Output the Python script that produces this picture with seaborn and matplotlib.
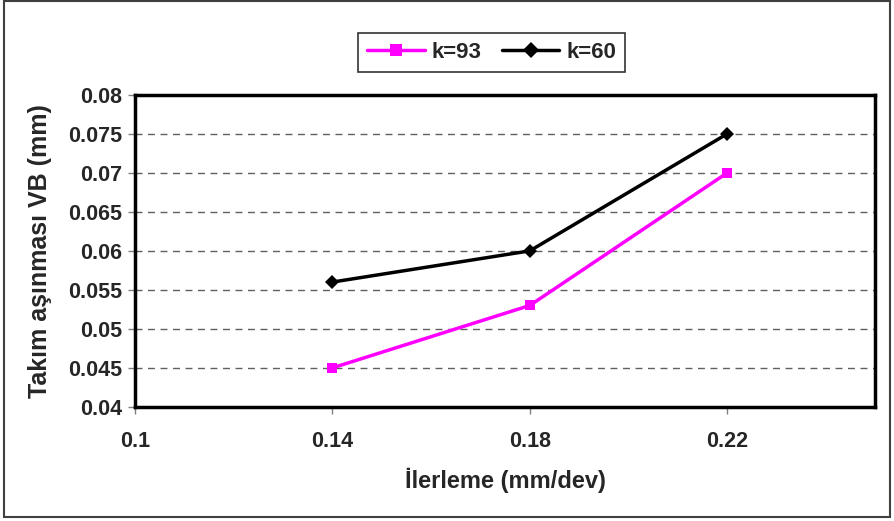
import numpy as np
import pandas as pd
import seaborn as sns
import matplotlib.pyplot as plt
from matplotlib.patches import Rectangle

# values
feed = [0.14, 0.18, 0.22]
wear_k93 = [0.045, 0.053, 0.070]
wear_k60 = [0.056, 0.060, 0.075]
series_names = ['k=93', 'k=60']
x_ticks = [0.1, 0.14, 0.18, 0.22]
y_ticks = [0.04, 0.045, 0.05, 0.055, 0.06, 0.065, 0.07, 0.075, 0.08]

df = pd.DataFrame({
    'feed': feed * 2,
    'wear': wear_k93 + wear_k60,
    'series': [series_names[0]] * 3 + [series_names[1]] * 3,
})

sns.set_style('white')
plt.rcParams['font.family'] = ['Liberation Sans', 'DejaVu Sans']
plt.rcParams['font.weight'] = 'bold'

fig = plt.figure(figsize=(8.94, 5.21), dpi=100)
ax = fig.add_axes([0.151, 0.219, 0.828, 0.599])

sns.lineplot(data=df, x='feed', y='wear', hue='series', style='series',
             palette={'k=93': '#FF00FF', 'k=60': 'black'},
             markers={'k=93': 's', 'k=60': 'D'}, dashes=False,
             markersize=7, linewidth=2.5, markeredgewidth=0, ax=ax)

ax.set_xlim(0.1, 0.25)
ax.set_ylim(0.04, 0.08)
ax.set_xticks(x_ticks)
ax.set_xticklabels([str(t) for t in x_ticks])
ax.set_yticks(y_ticks)
ax.set_yticklabels([f'{t:g}' for t in y_ticks])
ax.tick_params(axis='both', labelsize=15.5, direction='out', length=5,
               width=1, color='gray', bottom=True, left=True)
ax.tick_params(axis='x', pad=12)
ax.tick_params(axis='y', pad=4)

ax.yaxis.grid(True, linestyle=(0, (5, 4)), color='#606060', linewidth=1)
ax.set_axisbelow(True)
for s in ax.spines.values():
    s.set_visible(True)
    s.set_color('black')
    s.set_linewidth(2.5)

ax.set_xlabel('İlerleme (mm/dev)', fontsize=17, fontweight='bold', labelpad=12)
ax.set_ylabel('Takım aşınması VB (mm)', fontsize=18, fontweight='bold', labelpad=12)

leg = ax.legend(loc='center', bbox_to_anchor=(0.550, 0.899),
                bbox_transform=fig.transFigure, ncol=2, frameon=True,
                fancybox=False, edgecolor='black', fontsize=16,
                handlelength=2.6, columnspacing=0.9, handletextpad=0.3,
                borderpad=0.4, markerscale=1.15)
leg.get_frame().set_linewidth(1.2)
for t in leg.get_texts():
    t.set_fontweight('bold')

fig.patches.append(Rectangle((0.004, 0.008), 0.992, 0.99, transform=fig.transFigure,
                             fill=False, edgecolor='#404040', linewidth=1.5))

fig.savefig('out.png', dpi=100)
